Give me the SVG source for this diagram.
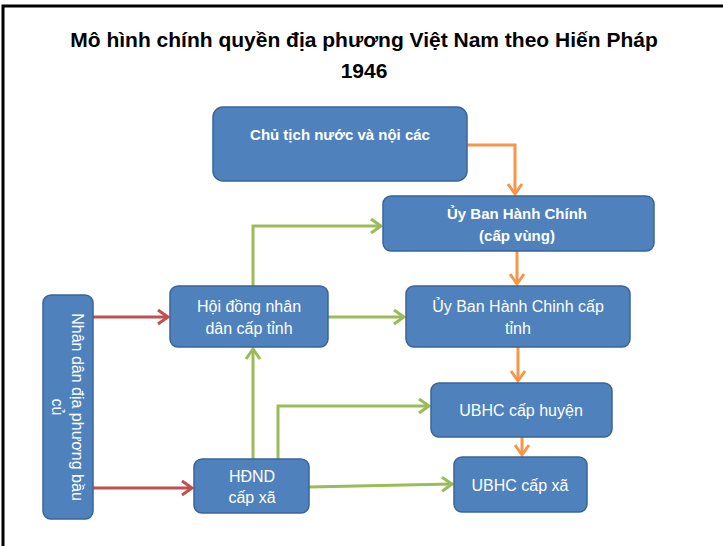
<svg xmlns="http://www.w3.org/2000/svg" width="723" height="546" viewBox="0 0 723 546">
<style>
.box{fill:#4F81BD;stroke:#3A6496;stroke-width:1.5}
.t{font-family:"Liberation Sans",Arial,sans-serif;fill:#fff;text-anchor:middle;font-size:16px}
.b{font-weight:bold;font-size:15px}
.title{font-family:"Liberation Sans",Arial,sans-serif;font-weight:bold;font-size:21px;fill:#000;text-anchor:middle}
.c{fill:none;stroke-width:3;stroke-linejoin:miter}
.o{stroke:#F79646}
.r{stroke:#C0504D}
.g{stroke:#9BBB59}
</style>
<defs>
<marker id="ao" markerUnits="userSpaceOnUse" markerWidth="14" markerHeight="16" refX="11" refY="7" orient="auto" overflow="visible"><path d="M1,0 L11,7 L1,14" fill="none" stroke="#F79646" stroke-width="3"/></marker>
<marker id="ar" markerUnits="userSpaceOnUse" markerWidth="14" markerHeight="16" refX="11" refY="7" orient="auto" overflow="visible"><path d="M1,0 L11,7 L1,14" fill="none" stroke="#C0504D" stroke-width="3"/></marker>
<marker id="ag" markerUnits="userSpaceOnUse" markerWidth="14" markerHeight="16" refX="11" refY="7" orient="auto" overflow="visible"><path d="M1,0 L11,7 L1,14" fill="none" stroke="#9BBB59" stroke-width="3"/></marker>
</defs>
<rect width="723" height="546" fill="#fff"/>
<path d="M3,546 V6 H723" fill="none" stroke="#000" stroke-width="3"/>
<text class="title" x="364" y="47">Mô hình chính quyền địa phương Việt Nam theo Hiến Pháp</text>
<text class="title" x="364" y="78">1946</text>

<g id="connectors">
<path class="c o" d="M467,145 H515 V194" marker-end="url(#ao)"/>
<path class="c o" d="M517,251 V284" marker-end="url(#ao)"/>
<path class="c o" d="M518,347 V381" marker-end="url(#ao)"/>
<path class="c o" d="M522,437 V455" marker-end="url(#ao)"/>
<path class="c r" d="M93,317 H168" marker-end="url(#ar)"/>
<path class="c r" d="M93,488 H192" marker-end="url(#ar)"/>
<path class="c g" d="M253,286 V226 H381" marker-end="url(#ag)"/>
<path class="c g" d="M328,317 H404" marker-end="url(#ag)"/>
<path class="c g" d="M253,459 V349" marker-end="url(#ag)"/>
<path class="c g" d="M278,459 V406 H429" marker-end="url(#ag)"/>
<path class="c g" d="M309,487 L452,484" marker-end="url(#ag)"/>
</g>

<g id="chu-tich">
<rect class="box" x="213" y="107" width="254" height="74" rx="10"/>
<text class="t b" x="340" y="140">Chủ tịch nước và nội các</text>
</g>
<g id="ubhc-vung">
<rect class="box" x="383" y="196" width="271" height="55" rx="8"/>
<text class="t b" x="517" y="219">Ủy Ban Hành Chính</text>
<text class="t b" x="517" y="241">(cấp vùng)</text>
</g>
<g id="nhan-dan">
<rect class="box" x="43" y="295" width="50" height="224" rx="8"/>
<text class="t" transform="translate(72,407) rotate(90)"><tspan x="0" y="0">Nhân dân địa phương bầu</tspan><tspan x="0" y="20">củ</tspan></text>
</g>
<g id="hdnd-tinh">
<rect class="box" x="170" y="286" width="158" height="61" rx="8"/>
<text class="t" x="249" y="312">Hội đồng nhân</text>
<text class="t" x="249" y="334">dân cấp tỉnh</text>
</g>
<g id="ubhc-tinh">
<rect class="box" x="406" y="286" width="224" height="61" rx="8"/>
<text class="t" x="518" y="312">Ủy Ban Hành Chinh cấp</text>
<text class="t" x="518" y="334">tỉnh</text>
</g>
<g id="ubhc-huyen">
<rect class="box" x="431" y="383" width="181" height="54" rx="8"/>
<text class="t" x="521" y="416">UBHC cấp huyện</text>
</g>
<g id="hdnd-xa">
<rect class="box" x="194" y="459" width="115" height="54" rx="8"/>
<text class="t" x="252" y="482">HĐND</text>
<text class="t" x="252" y="503">cấp xã</text>
</g>
<g id="ubhc-xa">
<rect class="box" x="454" y="457" width="133" height="55" rx="8"/>
<text class="t" x="520" y="491">UBHC cấp xã</text>
</g>
</svg>
